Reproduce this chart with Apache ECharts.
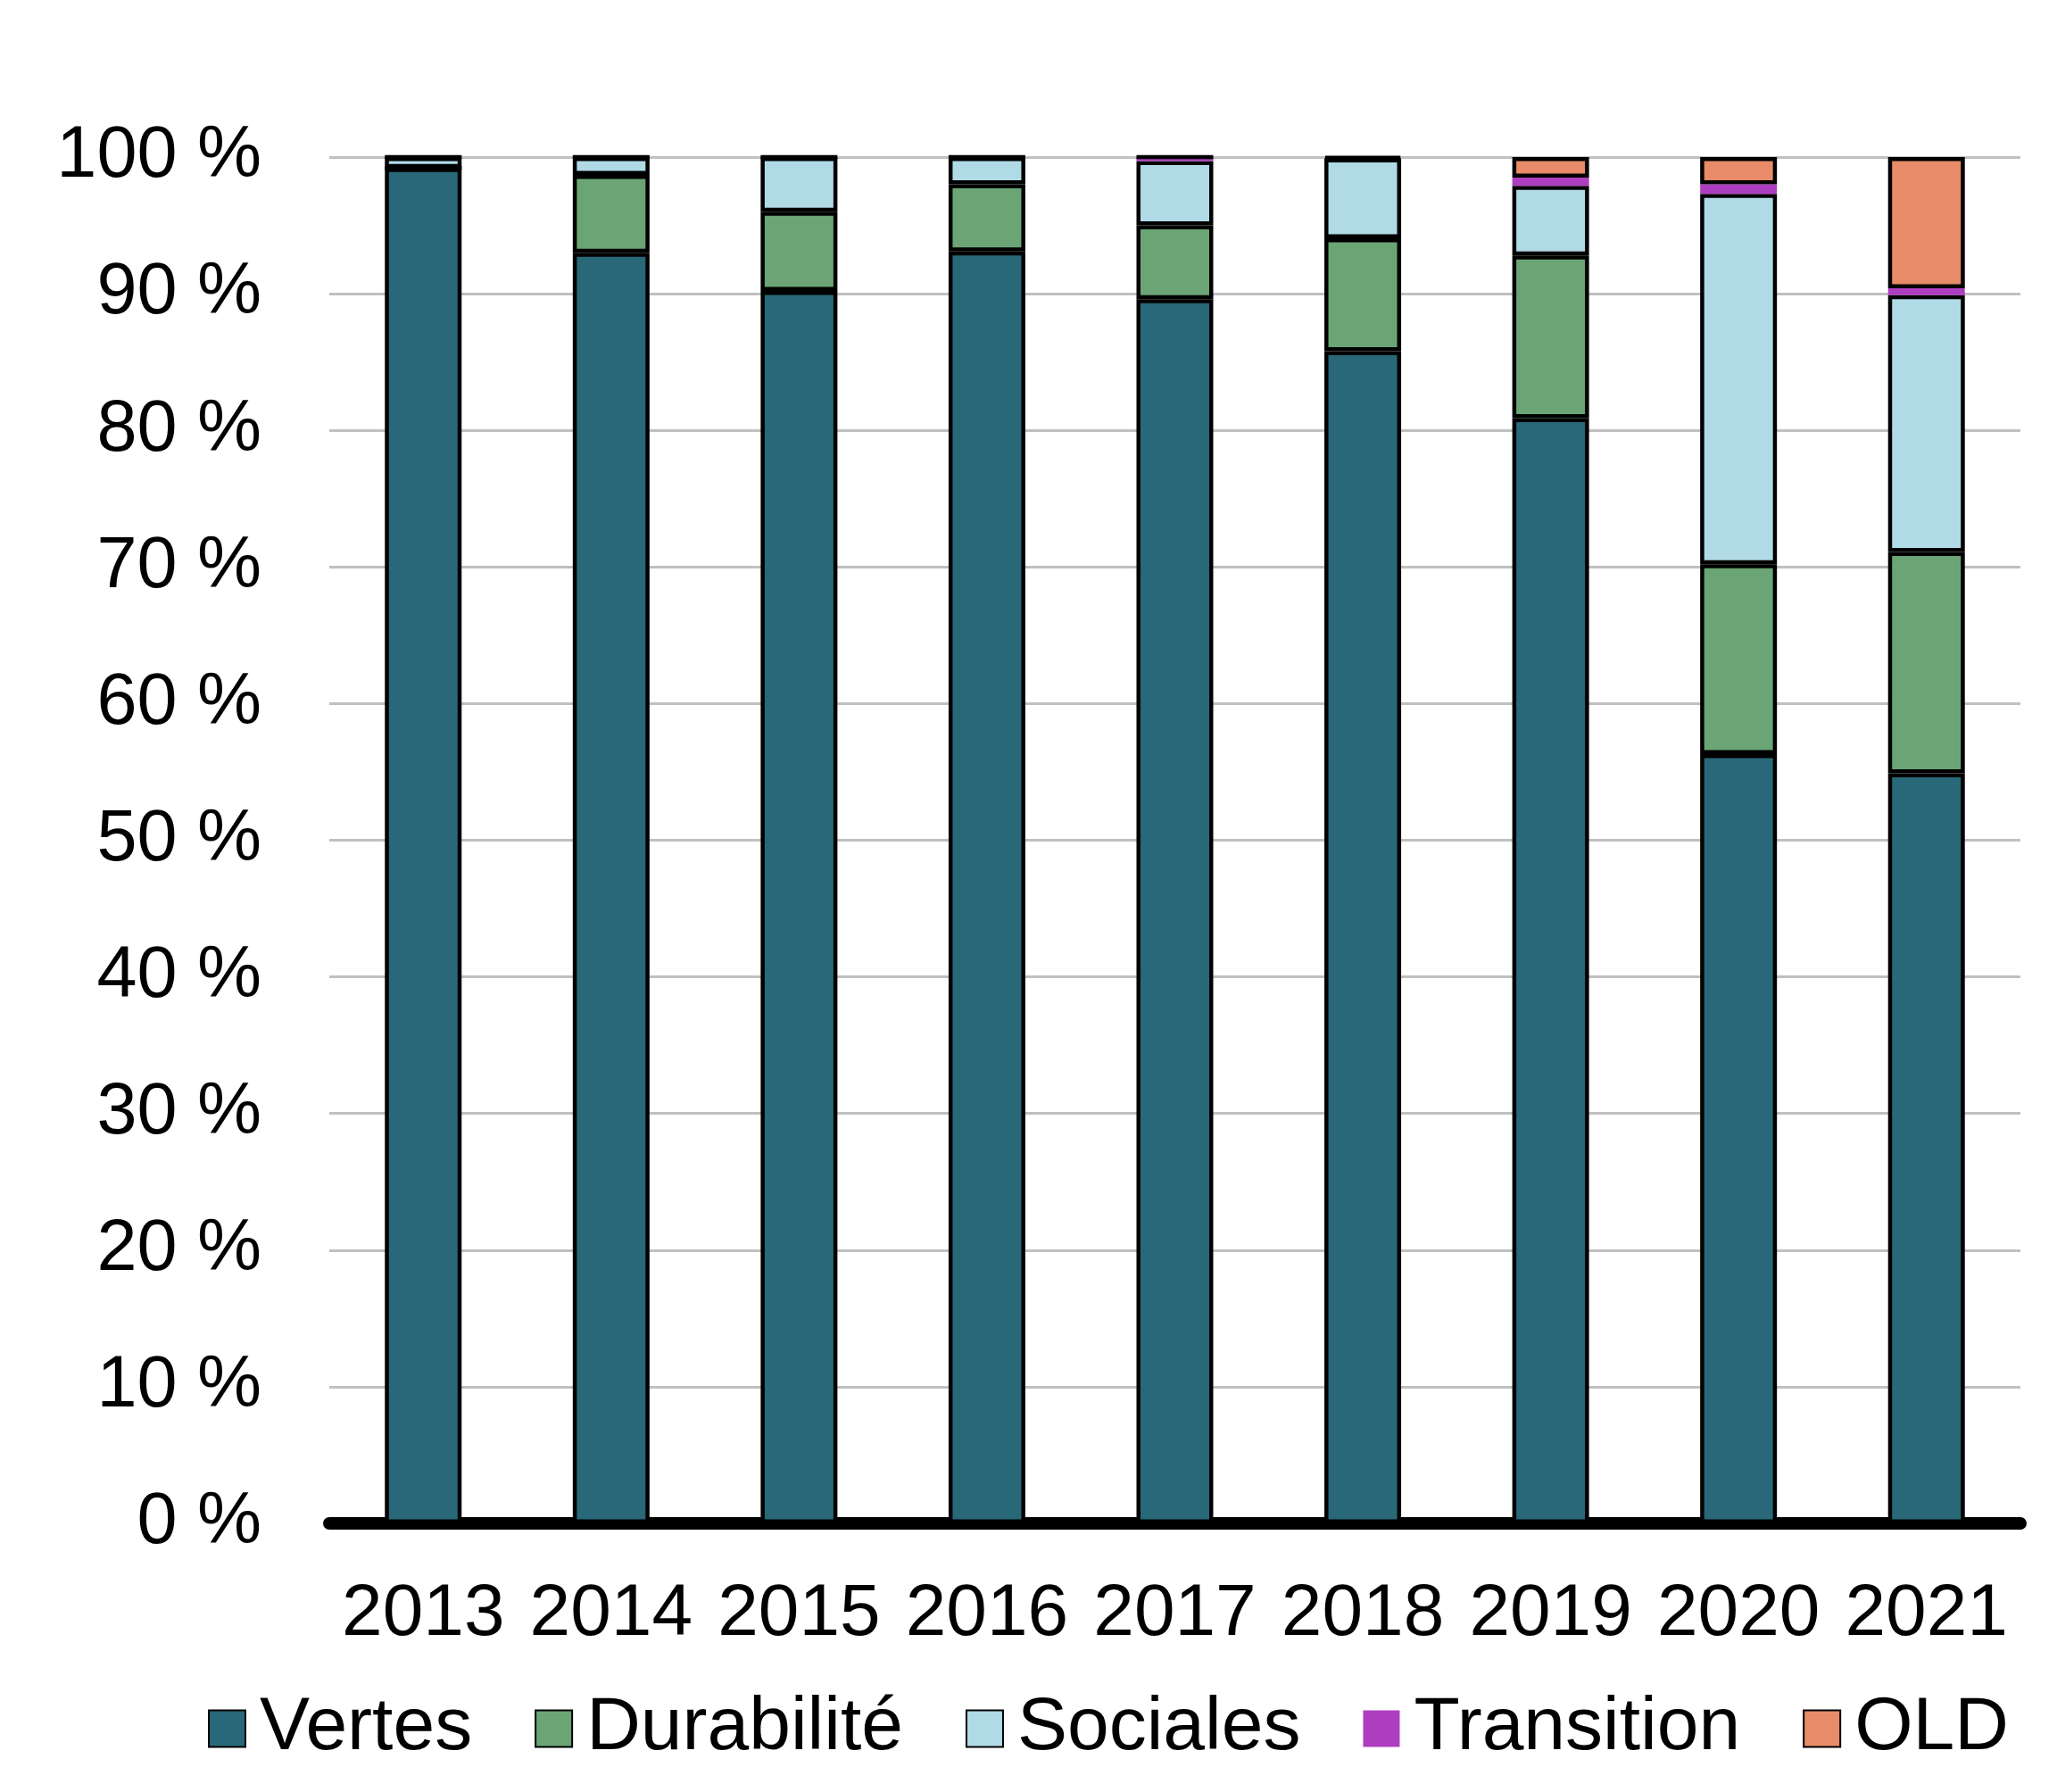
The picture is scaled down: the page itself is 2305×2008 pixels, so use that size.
<!DOCTYPE html>
<html>
<head>
<meta charset="utf-8">
<script src="https://cdn.jsdelivr.net/npm/echarts@6/dist/echarts.min.js"></script>
<style>html,body{margin:0;padding:0;background:#fff;}#c{width:2305px;height:2008px;}</style>
</head>
<body>
<div id="c"></div>
<script>
const categories = ['2013','2014','2015','2016','2017','2018','2019','2020','2021'];
const vertes      = [99.2, 93.0, 90.2, 93.1, 89.6, 85.8, 80.9, 56.3, 54.9];
const durabilite  = [0,    5.7,  5.8,  4.9,  5.4,  8.25, 11.9, 13.9, 16.2];
const sociales    = [0.8,  1.3,  4.0,  2.0,  4.7,  5.85, 5.1,  27.1, 18.8];
const transition  = [0,    0,    0,    0,    0.3,  0,    0.6,  0.7,  0.5];
const old         = [0,    0,    0,    0,    0,    0.1,  1.5,  2.0,  9.6];
const yTicks = [0,10,20,30,40,50,60,70,80,90,100];

const font = '"Liberation Sans", Arial, sans-serif';
const chart = echarts.init(document.getElementById('c'), null, {renderer:'canvas'});
function mk(name, data, color, bw) {
  return {
    name: name, type: 'bar', stack: 'a', data: data,
    barWidth: 86,
    itemStyle: {color: color, borderColor: '#000', borderWidth: bw},
    emphasis: {disabled: true}
  };
}
chart.setOption({
  animation: false,
  backgroundColor: '#fff',
  grid: {left: 369, right: 41, top: 176, bottom: 301, containLabel: false},
  xAxis: {
    type: 'category', data: categories,
    axisLine: {show: true, lineStyle: {color: '#000', width: 14}},
    axisTick: {show: false},
    axisLabel: {color: '#000', fontSize: 82, fontFamily: font, margin: 61, interval: 0}
  },
  yAxis: {
    type: 'value', min: 0, max: 100, interval: 10,
    axisLine: {show: false}, axisTick: {show: false},
    splitLine: {lineStyle: {color: '#c0c0c0', width: 3}},
    axisLabel: {color: '#000', fontSize: 81, fontFamily: font, margin: 76,
      formatter: v => yTicks.includes(v) ? v + ' %' : ''}
  },
  legend: {
    left: 233, top: 1895, padding: 0,
    itemWidth: 41, itemHeight: 41, itemGap: 70,
    icon: 'rect',
    textStyle: {color: '#000', fontSize: 84, fontFamily: font, padding: [0,0,0,11]},
    data: ['Vertes','Durabilité','Sociales','Transition','OLD']
  },
  series: [
    mk('Vertes', vertes, '#296878', 4.5),
    mk('Durabilité', durabilite, '#6ba575', 4.5),
    mk('Sociales', sociales, '#b0dae6', 4.5),
    mk('Transition', transition, '#ae3ec0', 0),
    mk('OLD', old, '#e78b68', 4.5)
  ]
});
</script>
</body>
</html>
